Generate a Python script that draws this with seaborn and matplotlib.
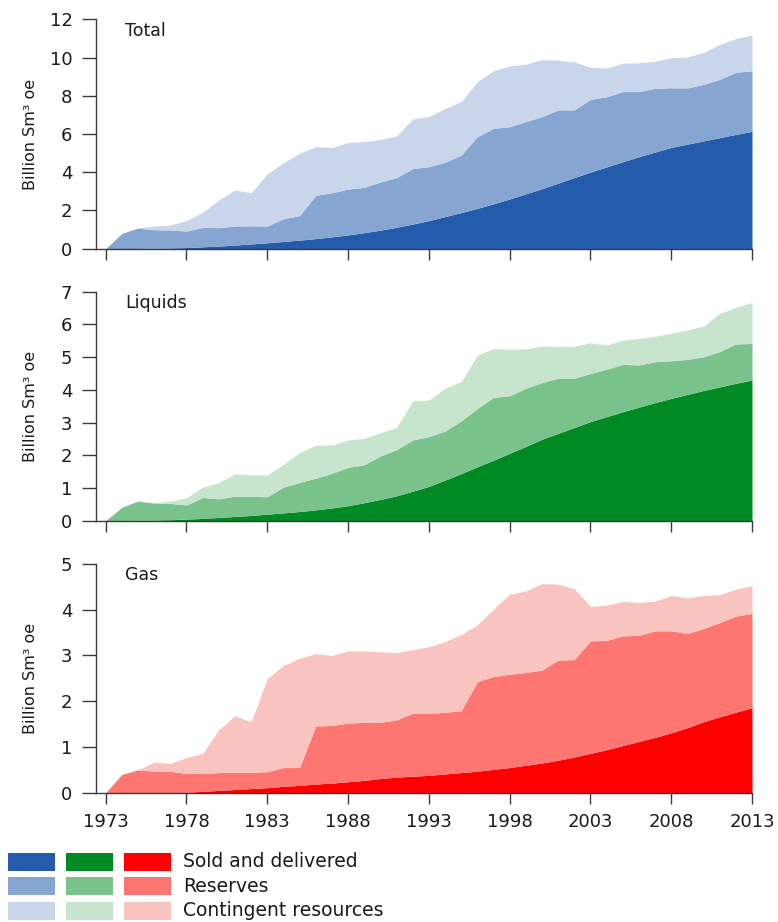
import numpy as np
import matplotlib
matplotlib.use("Agg")
import matplotlib.pyplot as plt
from matplotlib.patches import Rectangle
import seaborn as sns

# ---------------- data (billion Sm3 oe; cumulative stack tops) ----------------
years = list(range(1973, 2014))

total_sold = [0, 0, 0.01, 0.02, 0.04, 0.06, 0.10, 0.14, 0.19, 0.25, 0.31, 0.38, 0.45, 0.53,
              0.62, 0.72, 0.84, 0.97, 1.12, 1.29, 1.47, 1.68, 1.89, 2.11, 2.35, 2.60, 2.87,
              3.14, 3.43, 3.72, 4.01, 4.28, 4.55, 4.81, 5.06, 5.30, 5.47, 5.64, 5.81, 5.98, 6.14]
total_reserves_top = [0, 0.80, 1.08, 0.99, 0.98, 0.92, 1.12, 1.10, 1.19, 1.20, 1.19, 1.57, 1.73,
                      2.79, 2.93, 3.12, 3.21, 3.49, 3.72, 4.19, 4.29, 4.52, 4.90, 5.86, 6.30, 6.38,
                      6.65, 6.91, 7.26, 7.26, 7.81, 7.95, 8.22, 8.22, 8.39, 8.42, 8.41, 8.60, 8.86,
                      9.23, 9.31]
total_contingent_top = [0, 0.80, 1.08, 1.19, 1.24, 1.47, 1.90, 2.55, 3.07, 2.93, 3.91, 4.50, 4.99,
                        5.34, 5.30, 5.55, 5.60, 5.72, 5.90, 6.79, 6.91, 7.34, 7.69, 8.74, 9.31,
                        9.56, 9.65, 9.89, 9.86, 9.77, 9.49, 9.45, 9.70, 9.72, 9.80, 9.99, 10.03,
                        10.26, 10.69, 10.99, 11.18]

liquids_sold = [0, 0, 0.01, 0.02, 0.03, 0.05, 0.07, 0.10, 0.13, 0.16, 0.20, 0.24, 0.28, 0.33,
                0.39, 0.46, 0.55, 0.65, 0.76, 0.90, 1.05, 1.24, 1.44, 1.65, 1.85, 2.06, 2.27,
                2.49, 2.67, 2.85, 3.03, 3.18, 3.33, 3.47, 3.61, 3.74, 3.86, 3.98, 4.09, 4.20, 4.30]
liquids_reserves_top = [0, 0.41, 0.60, 0.54, 0.53, 0.48, 0.71, 0.67, 0.75, 0.75, 0.73, 1.03, 1.17,
                        1.30, 1.45, 1.63, 1.71, 1.98, 2.17, 2.47, 2.57, 2.74, 3.05, 3.43, 3.77,
                        3.82, 4.05, 4.22, 4.36, 4.36, 4.50, 4.63, 4.78, 4.76, 4.86, 4.89, 4.93,
                        5.01, 5.17, 5.40, 5.42]
liquids_contingent_top = [0, 0.41, 0.60, 0.55, 0.60, 0.70, 1.02, 1.17, 1.43, 1.40, 1.40, 1.72,
                          2.08, 2.31, 2.31, 2.47, 2.52, 2.69, 2.85, 3.66, 3.69, 4.05, 4.25, 5.06,
                          5.26, 5.24, 5.25, 5.34, 5.33, 5.33, 5.44, 5.37, 5.52, 5.57, 5.64, 5.73,
                          5.83, 5.95, 6.34, 6.52, 6.67]

gas_sold = [0, 0, 0, 0, 0, 0.01, 0.03, 0.05, 0.07, 0.09, 0.11, 0.14, 0.16, 0.19, 0.21, 0.24,
            0.27, 0.31, 0.34, 0.36, 0.38, 0.41, 0.44, 0.47, 0.51, 0.55, 0.60, 0.65, 0.71, 0.78,
            0.86, 0.94, 1.03, 1.12, 1.21, 1.31, 1.42, 1.55, 1.66, 1.76, 1.86]
gas_reserves_top = [0, 0.40, 0.50, 0.47, 0.47, 0.42, 0.42, 0.44, 0.45, 0.44, 0.46, 0.55, 0.55,
                    1.46, 1.47, 1.52, 1.54, 1.54, 1.59, 1.74, 1.73, 1.76, 1.79, 2.43, 2.54, 2.59,
                    2.63, 2.68, 2.90, 2.91, 3.32, 3.33, 3.43, 3.44, 3.54, 3.54, 3.48, 3.59, 3.72,
                    3.86, 3.92]
gas_contingent_top = [0, 0.40, 0.50, 0.67, 0.64, 0.77, 0.86, 1.38, 1.68, 1.55, 2.50, 2.78, 2.94,
                      3.04, 3.00, 3.10, 3.10, 3.08, 3.06, 3.13, 3.19, 3.30, 3.46, 3.67, 4.01,
                      4.34, 4.41, 4.57, 4.56, 4.46, 4.07, 4.10, 4.18, 4.16, 4.19, 4.31, 4.26,
                      4.31, 4.33, 4.45, 4.53]

panel_titles = ["Total", "Liquids", "Gas"]
legend_labels = ["Sold and delivered", "Reserves", "Contingent resources"]
x_ticks = list(range(1973, 2014, 5))
y_maxes = [12, 7, 5]
y_steps = [2, 1, 1]

palettes = [
    ["#245CAB", "#86A5D0", "#C8D5EA"],
    ["#008A23", "#7AC28B", "#C7E4CF"],
    ["#FF0000", "#FE7672", "#F9C3BF"],
]

# ---------------- style ----------------
sns.set_style("ticks")
plt.rcParams["font.family"] = ["DejaVu Sans"]
text_color = "#1a1a1a"
spine_color = "#3a3a3a"

W, H = 778, 922
fig = plt.figure(figsize=(W / 100, H / 100), dpi=100)

panels = [
    (total_sold, total_reserves_top, total_contingent_top),
    (liquids_sold, liquids_reserves_top, liquids_contingent_top),
    (gas_sold, gas_reserves_top, gas_contingent_top),
]
axes_px = [(19.3, 248.7), (291.7, 520.7), (564.0, 792.7)]  # top, bottom in pixels
left_px, right_px = 96, 752

x = np.array(years, dtype=float)
for i, ((sold, res_top, con_top), (top_px, bot_px)) in enumerate(zip(panels, axes_px)):
    ax = fig.add_axes([left_px / W, 1 - bot_px / H, (right_px - left_px) / W, (bot_px - top_px) / H])
    sold = np.array(sold)
    res_top = np.array(res_top)
    con_top = np.array(con_top)
    layers = [sold, res_top - sold, con_top - res_top]
    ax.stackplot(x, *layers, colors=palettes[i], linewidth=0, labels=legend_labels)
    ax.set_xlim(1972.4, 2013.0)
    ax.set_ylim(0, y_maxes[i])
    ax.set_yticks(np.arange(0, y_maxes[i] + 0.01, y_steps[i]))
    ax.set_xticks(x_ticks)
    if i < 2:
        ax.set_xticklabels([])
    else:
        ax.set_xticklabels([str(t) for t in x_ticks])
    sns.despine(ax=ax)
    for s in ["left", "bottom"]:
        ax.spines[s].set_color(spine_color)
        ax.spines[s].set_linewidth(1.0)
    ax.tick_params(axis="y", length=10, width=1.0, color=spine_color, pad=7,
                   labelsize=13, labelcolor=text_color)
    ax.tick_params(axis="x", length=7.7, width=1.0, color=spine_color, pad=7,
                   labelsize=13, labelcolor=text_color)
    ax.set_ylabel("Billion Sm³ oe", fontsize=11.5, color=text_color)
    ax.yaxis.set_label_coords(-0.088, 0.5)
    ax.text(0.044, 0.99, panel_titles[i], transform=ax.transAxes, ha="left", va="top",
            fontsize=12.5, color=text_color)
    ax.set_facecolor("white")

# ---------------- legend (colour grid) ----------------
col_x = [8, 66, 124]
row_y = [852.7, 877.0, 901.7]
pw, ph = 47, 18
for c in range(3):
    for r in range(3):
        fig.add_artist(Rectangle((col_x[c] / W, 1 - (row_y[r] + ph) / H), pw / W, ph / H,
                                 transform=fig.transFigure, facecolor=palettes[c][r],
                                 edgecolor="none"))
for r in range(3):
    fig.text(183 / W, 1 - (row_y[r] + ph / 2) / H, legend_labels[r], ha="left", va="center",
             fontsize=13.5, color=text_color)

fig.savefig("out.png", dpi=100, facecolor="white")
